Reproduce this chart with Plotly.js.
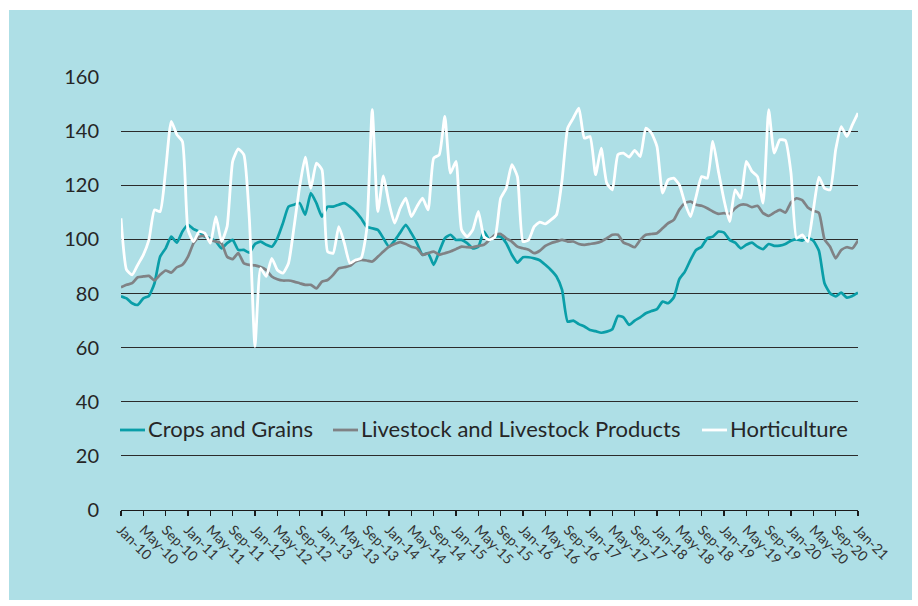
<!DOCTYPE html>
<html>
<head>
<meta charset="utf-8">
<script src="https://cdn.plot.ly/plotly-3.0.1.min.js"></script>
<style>
html,body{margin:0;padding:0;background:#ffffff;}
#chart{width:918px;height:606px;}
</style>
</head>
<body>
<div id="chart"></div>
<script>
// Tick labels (every 4 months)
const tickLabels = ["Jan-10","May-10","Sep-10","Jan-11","May-11","Sep-11","Jan-12","May-12","Sep-12",
  "Jan-13","May-13","Sep-13","Jan-14","May-14","Sep-14","Jan-15","May-15","Sep-15","Jan-16","May-16",
  "Sep-16","Jan-17","May-17","Sep-17","Jan-18","May-18","Sep-18","Jan-19","May-19","Sep-19","Jan-20",
  "May-20","Sep-20","Jan-21"];

const monthNames = ["Jan","Feb","Mar","Apr","May","Jun","Jul","Aug","Sep","Oct","Nov","Dec"];
const years = ["10","11","12","13","14","15","16","17","18","19","20","21"];

// Monthly categories Jan-10 .. Jan-21
const months = [];
years.forEach(function(y){ monthNames.forEach(function(m){ months.push(m + "-" + y); }); });
months.length = 133;

const seriesNames = ["Crops and Grains", "Livestock and Livestock Products", "Horticulture"];

const cropsAndGrains = [
  79.0,78.2,76.4,75.8,78.2,79.1,83.8,93.6,96.7,101.0,98.8,102.9,
  105.4,103.8,102.9,101.0,100.4,99.2,96.7,98.6,99.8,96.1,96.1,95.1,
  98.3,99.2,98.0,97.3,100.4,106.0,112.1,112.8,113.4,109.1,117.1,113.4,
  108.4,112.1,112.1,112.8,113.4,112.1,110.3,107.8,104.7,104.1,103.5,100.4,
  97.3,99.5,102.5,105.4,102.3,98.6,94.3,94.9,90.6,95.5,100.4,101.7,
  99.8,99.8,98.6,96.7,97.3,102.9,99.8,101.0,101.0,98.6,94.3,91.4,
  93.4,93.4,93.0,92.3,90.6,88.7,86.3,81.3,69.6,70.0,68.7,67.8,
  66.5,66.1,65.5,65.9,66.8,71.7,71.2,68.4,70.0,71.2,72.7,73.5,
  74.2,77.0,76.4,78.5,85.3,88.1,92.4,96.1,97.3,100.4,101.0,102.9,
  102.5,99.8,98.8,96.7,98.0,98.8,97.3,96.4,98.3,97.6,97.7,98.3,
  99.5,100.0,99.5,100.5,99.5,95.8,83.8,80.1,78.9,80.3,78.5,79.1,
  80.3
];

const livestockProducts = [
  82.3,83.2,83.8,86.0,86.3,86.5,84.8,86.9,88.5,87.7,89.7,90.6,
  93.6,98.6,101.0,101.3,99.8,99.2,98.6,93.6,92.7,94.9,91.2,90.6,
  90.4,89.8,88.7,86.3,85.3,84.8,84.8,84.4,83.8,83.2,83.2,81.9,
  84.4,85.0,86.9,89.3,89.7,90.2,91.8,92.4,92.2,91.8,93.6,95.5,
  97.3,98.3,99.0,98.3,97.3,96.7,94.3,94.9,95.5,94.3,94.9,95.5,
  96.4,97.3,97.1,97.1,97.6,98.0,99.8,101.7,102.0,100.4,99.2,97.3,
  96.7,96.2,94.9,95.8,97.6,98.6,99.2,99.8,99.2,99.2,98.3,98.0,
  98.3,98.6,99.2,100.4,101.7,101.7,98.8,98.0,97.1,99.8,101.7,102.0,
  102.3,104.1,106.0,107.2,111.0,113.4,114.0,112.8,112.4,111.5,110.3,109.4,
  109.7,109.4,111.5,112.8,112.8,111.9,112.4,109.7,108.7,109.9,110.9,109.9,
  113.7,115.2,114.5,111.8,110.6,109.8,100.0,97.3,93.0,96.1,97.1,96.7,
  99.6
];

const horticulture = [
  107.8,88.7,86.9,90.6,94.3,99.8,110.9,110.3,125.7,143.6,138.7,136.2,
  103.5,99.2,102.9,102.3,98.6,108.4,99.2,104.7,128.8,133.4,131.3,107.2,
  60.4,89.3,86.3,93.0,88.7,87.5,91.2,104.7,119.5,130.4,118.9,128.2,
  125.7,95.5,94.9,104.7,98.6,91.2,92.4,93.0,103.5,147.9,110.3,123.5,
  113.4,106.0,111.5,115.2,108.4,112.1,115.2,110.9,130.0,131.3,145.4,124.5,
  128.8,103.5,101.0,103.5,110.3,101.0,99.8,101.0,115.2,118.9,127.6,123.2,
  99.2,99.8,104.7,106.4,105.7,107.2,109.1,122.0,141.1,144.8,148.5,137.4,
  138.0,123.9,133.7,120.8,118.3,131.3,131.9,130.4,132.9,130.6,141.1,139.3,
  134.3,117.1,122.0,122.6,120.2,113.4,108.4,115.8,123.2,122.6,136.2,125.1,
  114.6,106.6,118.3,115.2,128.8,125.1,123.2,113.4,147.9,131.9,136.8,136.5,
  124.5,100.4,101.7,99.2,110.9,123.0,118.9,118.3,133.1,141.7,138.0,142.4,
  146.7
];

const yTicks = [0,20,40,60,80,100,120,140,160];

const FONT = "Lato, 'Open Sans', sans-serif";
const TXT = "#262626";
const colors = ["#0a9ea8", "#808285", "#ffffff"];

// plot area geometry in pixels (for converting to paper coords)
const PL = 121, PW = 737, PB = 510, PH = 433;
const px2x = function(px){ return (px - PL) / PW; };
const px2y = function(py){ return (PB - py) / PH; };

const traces = [
  {name:seriesNames[0], x: months, y: cropsAndGrains, type:"scatter", mode:"lines",
   line:{color:colors[0], width:2.7, shape:"spline", smoothing:0.5}},
  {name:seriesNames[1], x: months, y: livestockProducts, type:"scatter", mode:"lines",
   line:{color:colors[1], width:2.7, shape:"spline", smoothing:0.5}},
  {name:seriesNames[2], x: months, y: horticulture, type:"scatter", mode:"lines",
   line:{color:colors[2], width:2.8, shape:"spline", smoothing:0.5}}
];

// manual legend layout (pixel positions of swatch starts)
const legendSwatchX = [120, 333, 702];
const legendY = 430;

const shapes = [{type:"rect", xref:"paper", yref:"paper", layer:"below",
           x0:px2x(9), x1:px2x(912), y0:px2y(600), y1:px2y(10),
           fillcolor:"#aedfe6", line:{width:0}}];
const annotations = [];
seriesNames.forEach(function(n, i){
  shapes.push({type:"line", xref:"paper", yref:"paper", layer:"above",
    x0:px2x(legendSwatchX[i]), x1:px2x(legendSwatchX[i] + 25),
    y0:px2y(legendY), y1:px2y(legendY), line:{color:colors[i], width:2.8}});
  annotations.push({text:n, xref:"paper", yref:"paper", x:px2x(legendSwatchX[i] + 26), y:px2y(legendY - 1.5),
    xanchor:"left", yanchor:"middle", showarrow:false,
    font:{family:FONT, size:22, color:TXT}});
});

const layout = {
  width:918, height:606,
  margin:{l:121, r:60, t:77, b:96, pad:0},
  paper_bgcolor:"#ffffff",
  plot_bgcolor:"rgba(0,0,0,0)",
  font:{family:FONT, color:TXT, size:19},
  showlegend:false,
  xaxis:{type:"category", range:[0,132], tickmode:"array", tickvals:tickLabels, ticktext:tickLabels,
         tickangle:45, tickfont:{family:FONT, size:14, color:"#333333"},
         showgrid:false, zeroline:false, showline:true, linecolor:"#1a1a1a", linewidth:1.3,
         ticks:"outside", ticklen:5, tickcolor:"#1a1a1a", tickwidth:1.2, fixedrange:true},
  yaxis:{range:[0,160], tickmode:"array", tickvals:yTicks,
         tickfont:{family:FONT, size:20, color:TXT},
         showgrid:true, gridcolor:"#2b2b2b", gridwidth:1.2, zeroline:false, showline:false,
         ticks:"", ticklabelstandoff:21, fixedrange:true},
  shapes:shapes,
  annotations:annotations
};

Plotly.newPlot("chart", traces, layout, {displayModeBar:false, staticPlot:true});
</script>
</body>
</html>
